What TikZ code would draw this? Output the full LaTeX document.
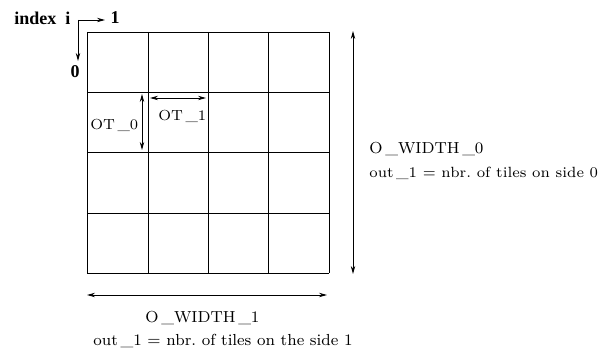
\documentclass[tikz,border=0pt]{standalone}
\usepackage{fontspec}
\newfontfamily\timesb{Liberation Serif}[BoldFont={Liberation Serif Bold}]
\usetikzlibrary{arrows.meta}
\begin{document}
\begin{tikzpicture}[x=0.5pt,y=-0.5pt,
  grid/.style={line width=0.45pt},
  tip/.tip={Stealth[length=4pt,width=2.2pt]},
  dim/.style={line width=0.4pt,tip-tip},
  one/.style={line width=0.45pt,-tip},
  lblot/.style={inner sep=0pt,font=\fontsize{7.3}{9}\selectfont},
  lbl/.style={inner sep=0pt,font=\fontsize{8}{9}\selectfont},
  lbls/.style={inner sep=0pt,font=\fontsize{7.4}{8}\selectfont},
  lblb/.style={inner sep=0pt,font=\fontsize{8}{9}\selectfont},
  bl/.style={inner sep=0pt,font=\timesb\bfseries\fontsize{9}{10}\selectfont}]
\useasboundingbox (0,0) rectangle (598,356);
% grid
\foreach \x in {87,148,208,268,329} \draw[grid] (\x,32) -- (\x,273);
\foreach \y in {32,92,152,213,273} \draw[grid] (87,\y) -- (329,\y);
% index arrows
\coordinate (c) at (78,20);
\coordinate (r) at (105,20);
\coordinate (d) at (78,61);
\draw[one] (c) -- (r);
\draw[one] (c) -- (d);
\node[bl,anchor=west] (idx) at (14,18) {index\hspace{0.5em}i};
\node[bl] (one1) at (115,18) {1};
\node[bl] (zero) at (75,72) {0};
% OT arrows
\coordinate (ot0a) at (142,94);
\coordinate (ot0b) at (142,150);
\draw[dim] (ot0a) -- (ot0b);
\coordinate (ot1a) at (150,98);
\coordinate (ot1b) at (206,98);
\draw[dim] (ot1a) -- (ot1b);
\node[lblot,anchor=west] (ot0) at (90,125) {OT\,\_0};
\node[lblot,anchor=west] (ot1) at (158,116) {OT\,\_1};
% right dimension
\coordinate (rt) at (353,31);
\coordinate (rb) at (353,274);
\draw[dim] (rt) -- (rb);
\node[lbl,anchor=west] (w0) at (369,149) {O\,\_WIDTH\,\_0};
\node[lbls,anchor=west] (o0) at (369,173) {out\,\_1 = nbr.\ of tiles on side 0};
% bottom dimension
\coordinate (bl) at (87,295);
\coordinate (br) at (327,295);
\draw[dim] (bl) -- (br);
\node[lbl,anchor=west] (w1) at (145,318) {O\,\_WIDTH\,\_1};
\node[lblb,anchor=west] (o1) at (93,341) {out\,\_1 = nbr.\ of tiles on the side 1};
\end{tikzpicture}
\end{document}
